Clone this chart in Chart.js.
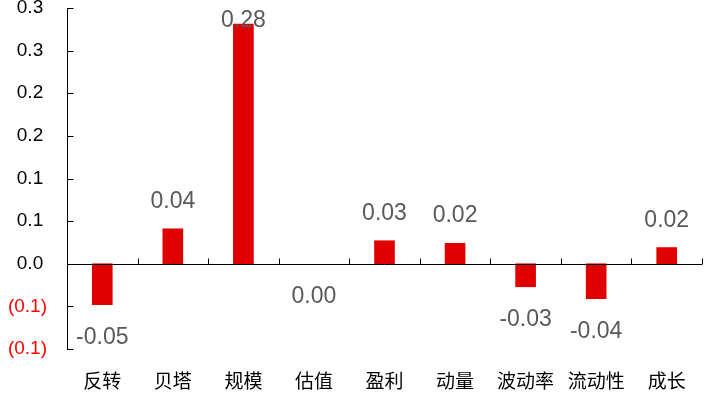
<!DOCTYPE html>
<html>
<head>
<meta charset="utf-8">
<script src="https://cdn.jsdelivr.net/npm/chart.js@4"></script>
<style>
  html, body { margin: 0; padding: 0; background: #fff; }
</style>
</head>
<body>
<canvas id="c" width="714" height="402"></canvas>
<script>
const categories = ['反转', '贝塔', '规模', '估值', '盈利', '动量', '波动率', '流动性', '成长'];
const values = [-0.048, 0.041, 0.281, 0.0, 0.027, 0.024, -0.027, -0.041, 0.019];
const yMin = -0.1, yMax = 0.3, yStep = 0.05;

const numFont = '"Liberation Sans", Arial, sans-serif';
const cjkFont = '"Noto Sans CJK SC", "Noto Sans", sans-serif';

// accounting style: negatives in brackets, positives keep room for ")"
function fmtTick(v) {
    const r = (Math.round(Math.abs(v) * 10 + 1e-9) / 10).toFixed(1);
    return v < -1e-9 ? '(' + r + ')' : r + '\u2009';
}

// axes: zero line, inward ticks
const axesPlugin = {
    id: 'axes',
    afterDraw(chart) {
        const { ctx, chartArea, scales: { y } } = chart;
        const y0 = Math.round(y.getPixelForValue(0)) + 0.5;
        const left = Math.round(chartArea.left) + 0.5;
        ctx.save();
        ctx.strokeStyle = '#000';
        ctx.lineWidth = 1;
        ctx.beginPath();
        ctx.moveTo(chartArea.left, y0);
        ctx.lineTo(chartArea.right, y0);
        const n = categories.length;
        const w = (chartArea.right - chartArea.left) / n;
        for (let i = 1; i <= n; i++) {
            const px = Math.round(chartArea.left + i * w) + 0.5;
            ctx.moveTo(px, y0);
            ctx.lineTo(px, y0 - 6);
        }
        y.ticks.forEach((t, i) => {
            const py = Math.round(y.getPixelForTick(i)) + 0.5;
            ctx.moveTo(left, py);
            ctx.lineTo(left + 6, py);
        });
        ctx.stroke();
        ctx.restore();
    }
};

// value labels above / below bars
const labelPlugin = {
    id: 'valueLabels',
    afterDatasetsDraw(chart) {
        const { ctx, chartArea } = chart;
        const meta = chart.getDatasetMeta(0);
        ctx.save();
        ctx.font = '23px ' + numFont;
        ctx.fillStyle = '#595959';
        ctx.textAlign = 'center';
        ctx.textBaseline = 'alphabetic';
        meta.data.forEach((bar, i) => {
            const v = values[i];
            let by;
            if (v > 0) by = Math.max(bar.y - 21, chartArea.top + 19);
            else by = bar.y + 39;
            ctx.fillText(v.toFixed(2), bar.x, by);
        });
        ctx.restore();
    }
};

new Chart(document.getElementById('c'), {
    type: 'bar',
    data: {
        labels: categories,
        datasets: [{
            data: values,
            backgroundColor: c => c.raw === 0 ? 'rgba(0,0,0,0)' : '#e00000',
            borderWidth: 0,
            barThickness: 20
        }]
    },
    options: {
        responsive: false,
        animation: false,
        layout: { autoPadding: false, padding: { top: 8, right: 12, left: 0, bottom: 0 } },
        plugins: { legend: { display: false }, title: { display: false }, tooltip: { enabled: false } },
        scales: {
            x: {
                grid: { display: false, drawTicks: false },
                border: { display: false },
                ticks: { color: '#000', font: { family: cjkFont, size: 19 }, padding: 20, maxRotation: 0 },
                afterFit: s => { s.height = 53; s.paddingLeft = 0; s.paddingRight = 0; }
            },
            y: {
                min: yMin,
                max: yMax,
                grid: { display: false, drawTicks: false },
                border: { display: true, color: '#000', width: 1 },
                ticks: {
                    stepSize: yStep,
                    padding: 20,
                    font: { family: numFont, size: 19 },
                    color: c => c.tick.value < -1e-9 ? '#ff0000' : '#000',
                    callback: v => fmtTick(v)
                },
                afterFit: s => { s.width = 67; s.paddingTop = 0; s.paddingBottom = 0; }
            }
        }
    },
    plugins: [axesPlugin, labelPlugin]
});
</script>
</body>
</html>
